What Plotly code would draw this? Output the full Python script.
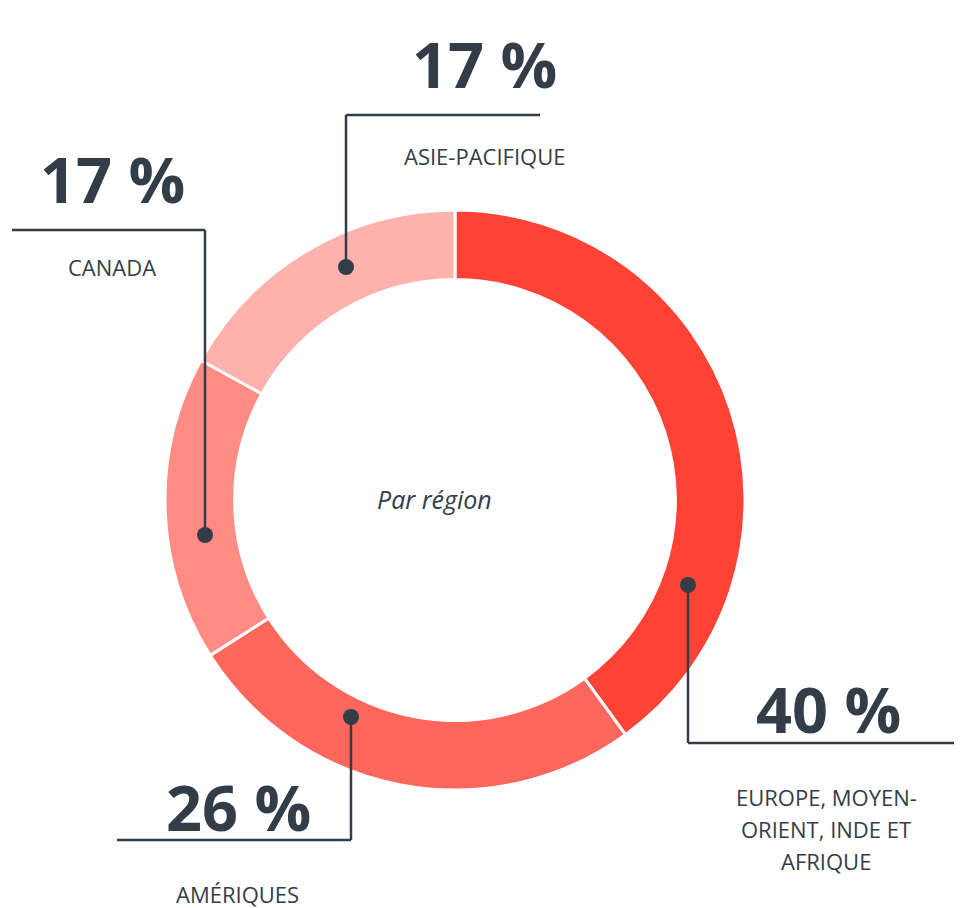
import plotly.graph_objects as go

W, H = 954, 900          # figure size (page adds an 8px body margin)
OFF = 8
regions = ["EUROPE, MOYEN-ORIENT, INDE ET AFRIQUE", "AMÉRIQUES", "CANADA", "ASIE-PACIFIQUE"]
values = [40, 26, 17, 17]
pct_labels = ["40 %", "26 %", "17 %", "17 %"]
colors = ["#FF4236", "#FF675C", "#FF8C84", "#FFB2AD"]
center_text = "Par région"

DARK = "#333D47"

def px(x):
    return (x - OFF) / W

def py(y):
    return 1 - (y - OFF) / H

fig = go.Figure(go.Pie(
    labels=regions, values=values, sort=False, direction="clockwise", rotation=0,
    hole=0.76, marker=dict(colors=colors, line=dict(color="white", width=3)),
    textinfo="none", hoverinfo="label+percent", showlegend=False,
    domain=dict(x=[px(165), px(745)], y=[py(790), py(210)]),
))

shapes = []
annotations = []

def callout(pts, dot, big, big_xy, lab_lines, lab_xy, lab_gap=32):
    for (x0, y0), (x1, y1) in zip(pts[:-1], pts[1:]):
        shapes.append(dict(type="line", xref="paper", yref="paper",
                           x0=px(x0), y0=py(y0), x1=px(x1), y1=py(y1),
                           line=dict(color=DARK, width=2.5)))
    r = 8
    shapes.append(dict(type="circle", xref="paper", yref="paper",
                       x0=px(dot[0] - r), x1=px(dot[0] + r),
                       y0=py(dot[1] + r), y1=py(dot[1] - r),
                       fillcolor=DARK, line=dict(color=DARK, width=0)))
    annotations.append(dict(text=f"<b>{big}</b>", x=px(big_xy[0]), y=py(big_xy[1]),
                            xref="paper", yref="paper", xanchor="center", yanchor="middle",
                            showarrow=False, font=dict(family="Open Sans", size=63, color=DARK)))
    for i, t in enumerate(lab_lines):
        annotations.append(dict(text=t, x=px(lab_xy[0]), y=py(lab_xy[1] + i * lab_gap),
                                xref="paper", yref="paper", xanchor="center", yanchor="middle",
                                showarrow=False, font=dict(family="Open Sans", size=22, color=DARK)))

# Asie-Pacifique
callout([(540, 115), (346, 115), (346, 267)], (346, 267), pct_labels[3], (484, 63),
        ["ASIE-PACIFIQUE"], (484, 156))
# Canada
callout([(12, 230), (205, 230), (205, 535)], (205, 535), pct_labels[2], (112, 178),
        ["CANADA"], (112, 267))
# Europe
callout([(688, 585), (688, 743), (962, 743)], (688, 585), pct_labels[0], (828, 708),
        ["EUROPE, MOYEN-", "ORIENT, INDE ET", "AFRIQUE"], (826, 797))
# Amériques
callout([(351, 717), (351, 840), (117, 840)], (351, 717), pct_labels[1], (238, 806),
        ["AMÉRIQUES"], (237, 894))

annotations.append(dict(text=f"<i>{center_text}</i>", x=px(434), y=py(499),
                        xref="paper", yref="paper", xanchor="center", yanchor="middle",
                        showarrow=False, font=dict(family="Open Sans", size=25, color=DARK)))

fig.update_layout(width=W, height=H, margin=dict(l=0, r=0, t=0, b=0),
                  paper_bgcolor="white", plot_bgcolor="white",
                  shapes=shapes, annotations=annotations)
fig.write_html("out.html")
